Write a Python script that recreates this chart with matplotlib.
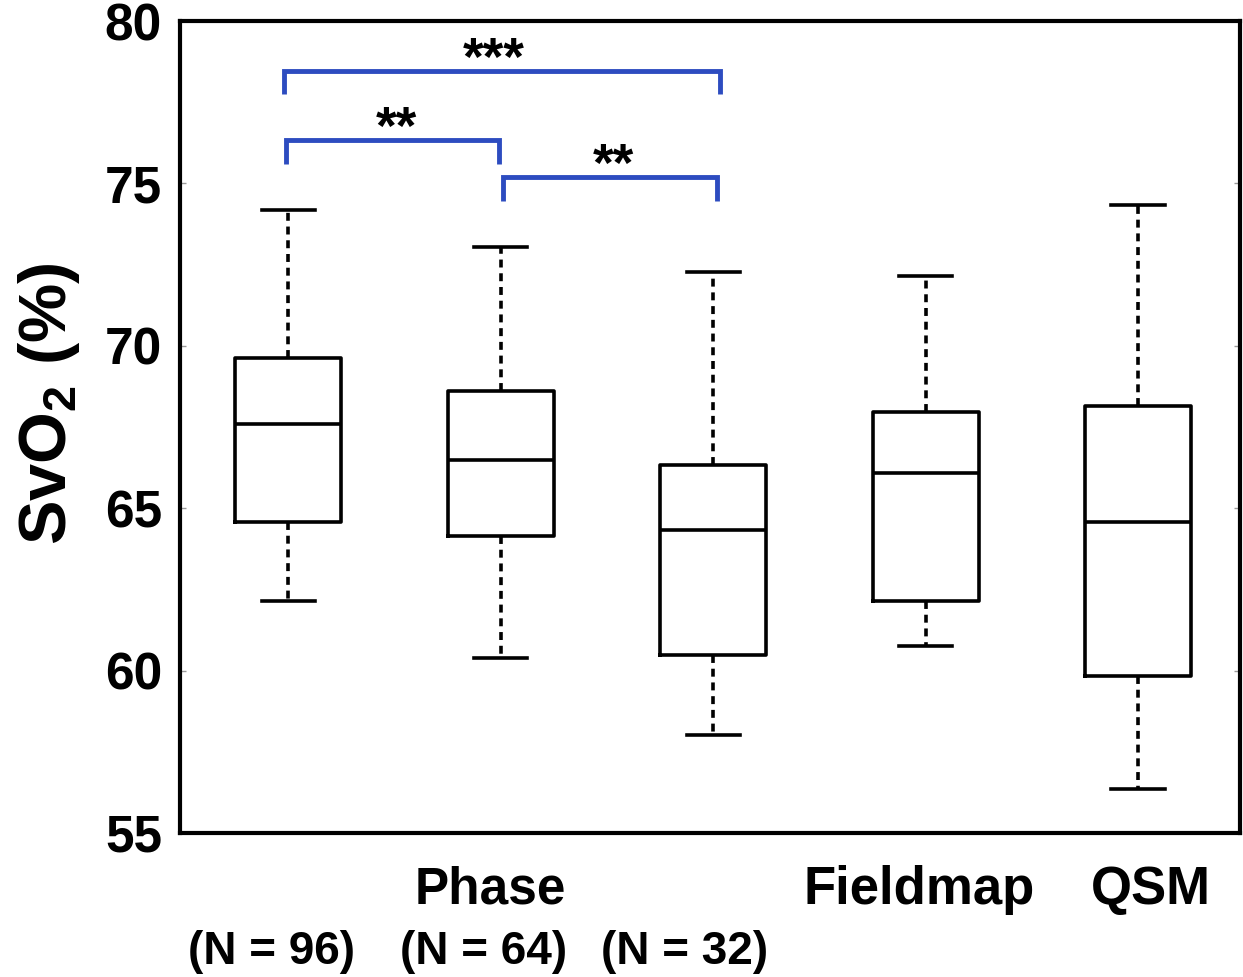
import matplotlib
matplotlib.use("Agg")
import matplotlib.pyplot as plt

plt.rcParams['font.family'] = ['Liberation Sans', 'DejaVu Sans']
plt.rcParams['font.weight'] = 'bold'
plt.rcParams['mathtext.fontset'] = 'custom'
plt.rcParams['mathtext.rm'] = 'Liberation Sans:bold'
plt.rcParams['mathtext.bf'] = 'Liberation Sans:bold'
plt.rcParams['mathtext.it'] = 'Liberation Sans:bold'

# Box statistics (whisker low, q1, median, q3, whisker high)
groups = ["Phase N96", "Phase N64", "Phase N32", "Fieldmap", "QSM"]
whislo = [62.14, 60.38, 58.03, 60.75, 56.36]
q1 = [64.58, 64.15, 60.47, 62.14, 59.82]
med = [67.58, 66.47, 64.34, 66.07, 64.58]
q3 = [69.62, 68.60, 66.34, 67.95, 68.14]
whishi = [74.17, 73.05, 72.28, 72.16, 74.32]

# Significance brackets: x ends (in group positions), y top, label
brk_x0 = [0.98, 0.99, 2.01]
brk_x1 = [3.03, 1.99, 3.02]
brk_y = [78.46, 76.33, 75.19]
brk_labels = ["***", "**", "**"]
brk_label_x = [1.965, 1.51, 2.53]

yticks = [55, 60, 65, 70, 75, 80]

fig = plt.figure(figsize=(12.43, 9.77), dpi=100)
ax = fig.add_axes([180/1243, 1 - 833/977, 1060/1243, (833-21)/977])

stats = []
for i in range(len(groups)):
    stats.append(dict(whislo=whislo[i], q1=q1[i], med=med[i], q3=q3[i],
                      whishi=whishi[i], fliers=[], label=groups[i]))
ax.bxp(stats, positions=[1, 2, 3, 4, 5], widths=0.5, showfliers=False,
       boxprops=dict(color='black', linewidth=2.6),
       medianprops=dict(color='black', linewidth=2.6),
       whiskerprops=dict(color='black', linewidth=2.6, linestyle=(0, (2.2, 1.6))),
       capprops=dict(color='black', linewidth=2.6))

blue = '#2d4cc0'
drop = 0.72
for x0, x1, y, lab, lx in zip(brk_x0, brk_x1, brk_y, brk_labels, brk_label_x):
    ax.plot([x0, x0, x1, x1], [y - drop, y, y, y - drop],
            color=blue, linewidth=3.5, solid_capstyle='butt', solid_joinstyle='miter')
    ax.text(lx, y - 0.12, lab, ha='center', va='baseline',
            fontsize=38, fontweight='bold', color='black')

ax.set_xlim(0.49, 5.48)
ax.set_ylim(55, 80)
ax.set_yticks(yticks)
ax.set_yticklabels([str(t) for t in yticks], fontsize=37, fontweight='bold')
ax.set_xticks([])
ax.tick_params(axis='y', direction='in', length=4, width=1, color='#999999',
               right=True, pad=13)
for s in ax.spines.values():
    s.set_linewidth(3)

ax.set_ylabel(r'SvO$_{2}$ (%)', fontsize=48, fontweight='bold')
ax.yaxis.set_label_coords(-0.092, (833 - 404) / 812)

# Category labels below the axes
fig.text(490/1243, 1 - 890/977, "Phase", ha='center', va='center', fontsize=37, fontweight='bold')
fig.text(919/1243, 1 - 890/977, "Fieldmap", ha='center', va='center', fontsize=38, fontweight='bold')
fig.text(1151/1243, 1 - 890/977, "QSM", ha='center', va='center', fontsize=38, fontweight='bold')
fig.text(272/1243, 1 - 952/977, "(N = 96)", ha='center', va='center', fontsize=33, fontweight='bold')
fig.text(484/1243, 1 - 952/977, "(N = 64)", ha='center', va='center', fontsize=33, fontweight='bold')
fig.text(685/1243, 1 - 952/977, "(N = 32)", ha='center', va='center', fontsize=33, fontweight='bold')

fig.savefig("out.png", dpi=100)
